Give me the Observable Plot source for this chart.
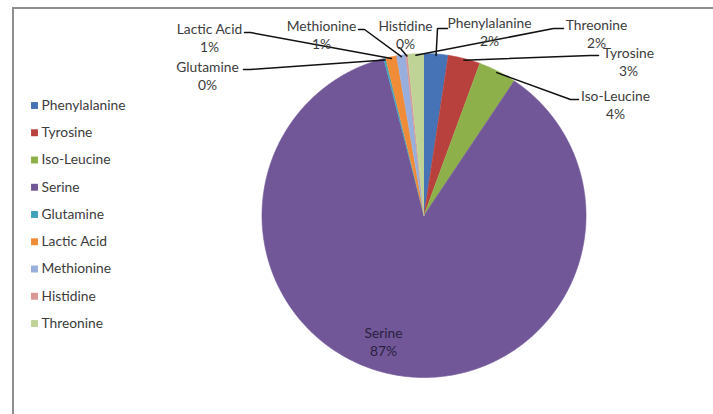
<!DOCTYPE html>
<html>
<head>
<meta charset="utf-8">
<script src="https://cdn.jsdelivr.net/npm/d3@7"></script>
<script src="https://cdn.jsdelivr.net/npm/@observablehq/plot@0.6"></script>
<style>
  body { margin: 0; background: #fff; }
  #chart { position: relative; width: 713px; height: 414px; overflow: hidden; }
  #frame { position: absolute; left: 12px; top: 7px; width: 720px; height: 420px;
           border-left: 2px solid #8e8e8e; border-top: 2px solid #8e8e8e; pointer-events: none; }
  #chart svg { position: absolute; left: 0; top: 0; }
</style>
</head>
<body>
<div id="chart"><div id="frame"></div></div>
<script>
// Composition of the sample, in percent
const aminoAcids = ["Phenylalanine", "Tyrosine", "Iso-Leucine", "Serine", "Glutamine",
                    "Lactic Acid", "Methionine", "Histidine", "Threonine"];
const shares = [2.4, 3.2, 3.8, 86.6, 0.2, 1.1, 0.9, 0.2, 1.6];
const sliceColors = ["#4573b5", "#b8413e", "#8db04a", "#715797", "#3fa3bc",
                     "#f08b37", "#98aedc", "#d99694", "#bfd396"];

// Pie geometry in pixels (centre and radius)
const CX = 423.5, CY = 215, R = 162;
const toUX = px => (px - CX) / R;
const toUY = py => (CY - py) / R;

const rows = aminoAcids.map((name, i) => ({name, value: shares[i]}));
const total = d3.sum(shares);
const arcs = d3.pie().sort(null).value(d => d.value)(rows);

// Slice outlines in unit coordinates (0 rad = 12 o'clock, clockwise)
const slicePts = [];
for (const a of arcs) {
  const n = Math.max(2, Math.ceil((a.endAngle - a.startAngle) / (Math.PI / 360)));
  slicePts.push({name: a.data.name, x: 0, y: 0});
  for (let k = 0; k <= n; k++) {
    const t = a.startAngle + (a.endAngle - a.startAngle) * k / n;
    slicePts.push({name: a.data.name, x: Math.sin(t), y: Math.cos(t)});
  }
}

// Label placement: block centre, plus leader start and elbow (pixels)
const labelLayout = {
  "Phenylalanine": {tx: 489, ty: 31, line: [[447, 28], [437, 28]]},
  "Tyrosine":      {tx: 628, ty: 61, line: [[598, 55], [590, 55]]},
  "Iso-Leucine":   {tx: 615, ty: 104, line: [[578, 99], [570, 99]]},
  "Serine":        {tx: 383, ty: 341, inside: true},
  "Glutamine":     {tx: 207, ty: 75, line: [[243, 69], [250, 69]]},
  "Lactic Acid":   {tx: 209, ty: 37, line: [[244, 32], [250, 32]]},
  "Methionine":    {tx: 321, ty: 34, line: [[358, 29], [364, 29]]},
  "Histidine":     {tx: 405, ty: 34, line: [[398, 47], [400, 48]]},
  "Threonine":     {tx: 596, ty: 33, line: [[563, 28], [553, 28]]}
};

const labels = arcs.map(a => {
  const L = labelLayout[a.data.name];
  return {
    name: a.data.name,
    text: `${a.data.name}\n${Math.round(a.data.value / total * 100)}%`,
    x: toUX(L.tx), y: toUY(L.ty), inside: !!L.inside
  };
});

const leaders = [];
for (const a of arcs) {
  const L = labelLayout[a.data.name];
  if (!L.line) continue;
  for (const [px, py] of L.line) leaders.push({name: a.data.name, x: toUX(px), y: toUY(py)});
  const mid = (a.startAngle + a.endAngle) / 2;
  leaders.push({name: a.data.name, x: Math.sin(mid) * 0.99, y: Math.cos(mid) * 0.99});
}

// Legend rows on the left
const legendX = 34, legendTop = 105, legendStep = 27.25;
const legendRows = aminoAcids.map((name, i) => ({
  name, x: toUX(legendX), y: toUY(legendTop + i * legendStep), tx: toUX(legendX + 7)
}));

const font = "Lato, 'Open Sans', sans-serif";
const labelSize = 13.8;

const chart = Plot.plot({
  width: 713,
  height: 414,
  margin: 0,
  x: {domain: [-1, 1], range: [CX - R, CX + R], axis: null},
  y: {domain: [-1, 1], range: [CY + R, CY - R], axis: null},
  color: {domain: aminoAcids, range: sliceColors},
  style: {fontFamily: font, background: "transparent"},
  marks: [
    Plot.line(slicePts, {x: "x", y: "y", z: "name", fill: "name", stroke: "name",
                         strokeWidth: 0.6, curve: "linear"}),
    Plot.line(leaders, {x: "x", y: "y", z: "name", stroke: "#111", strokeWidth: 1.5}),
    Plot.text(labels.filter(d => !d.inside), {
      x: "x", y: "y", text: "text", fill: "#3c3c3c", fontSize: labelSize,
      lineHeight: 1.3, textAnchor: "middle"
    }),
    Plot.text(labels.filter(d => d.inside), {
      x: "x", y: "y", text: "text", fill: "#2a2140", fontSize: labelSize,
      lineHeight: 1.3, textAnchor: "middle"
    }),
    Plot.dot(legendRows, {x: "x", y: "y", fill: "name", symbol: "square", r: 3.9, stroke: null}),
    Plot.text(legendRows, {x: "tx", y: "y", text: "name", fill: "#3c3c3c", fontSize: labelSize,
                           textAnchor: "start"})
  ]
});

document.getElementById("chart").prepend(chart);
</script>
</body>
</html>
